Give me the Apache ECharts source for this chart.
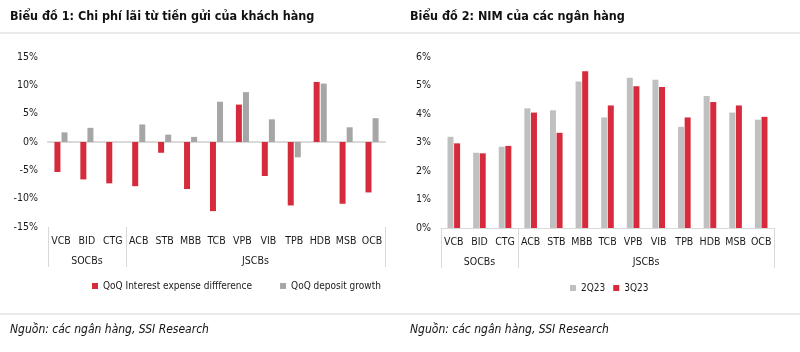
<!DOCTYPE html>
<html><head><meta charset="utf-8">
<script src="https://cdn.jsdelivr.net/npm/echarts@6/dist/echarts.min.js"></script>
<style>html,body{margin:0;padding:0;background:#fff}#c{width:800px;height:352px}</style>
</head><body><div id="c"></div>
<script>
const categories = ['VCB','BID','CTG','ACB','STB','MBB','TCB','VPB','VIB','TPB','HDB','MSB','OCB'];
const groupLabels = ['','SOCBs','','','','','','JSCBs','','','','',''];
const groupBoundaries = [0, 3];
const interestExpenseDiff = [-5.3,-6.6,-7.3,-7.8,-1.9,-8.3,-12.2,6.6,-6.0,-11.2,10.6,-10.9,-8.9];
const depositGrowth = [1.7,2.5,0,3.1,1.3,0.9,7.1,8.8,4.0,-2.7,10.3,2.6,4.2];
const nim2Q23 = [3.2,2.64,2.85,4.2,4.13,5.14,3.88,5.27,5.2,3.55,4.63,4.05,3.8];
const nim3Q23 = [2.97,2.62,2.88,4.05,3.34,5.5,4.3,4.97,4.95,3.88,4.42,4.3,3.9];
const leftTicks = [-15, 15, 5];
const rightTicks = [0, 6, 1];

const FONT = "'Liberation Sans Narrow','DejaVu Sans Condensed','Roboto Condensed',Arial,sans-serif";
const RED = '#d52b3c', GRAY_L = '#a6a6a6', GRAY_R = '#c0c0c0', LINE = '#d9d9d9', TXT = '#1a1a1a';

function labelAxis(grid) {
  return {
    type: 'category', gridIndex: grid, data: categories, position: 'bottom',
    axisLine: { show: grid === 1, onZero: false, lineStyle: { color: LINE, width: 1 } },
    axisTick: { show: false },
    axisLabel: { interval: 0, margin: 9, fontSize: 10.5, color: TXT, fontFamily: FONT }
  };
}
function groupAxis(grid) {
  return {
    type: 'category', gridIndex: grid, data: groupLabels, position: 'bottom',
    axisLine: { show: false, onZero: false },
    axisTick: { show: true, length: 40, interval: (i) => groupBoundaries.includes(i), lineStyle: { color: LINE, width: 1 } },
    axisLabel: {
      interval: 0, margin: 29, fontSize: 10.5, color: TXT, fontFamily: FONT,
      formatter: (v) => v === 'JSCBs' ? '{j|' + v + '}' : v,
      rich: { j: { padding: [0, 0, 0, 26], fontSize: 10.5, color: TXT, fontFamily: FONT } }
    }
  };
}

const option = {
  animation: false,
  title: [
    { text: 'Biểu đồ 1: Chi phí lãi từ tiền gửi của khách hàng', left: 5, top: 5,
      textStyle: { fontSize: 12.5, fontWeight: 'bold', color: '#111', fontFamily: FONT } },
    { text: 'Biểu đồ 2: NIM của các ngân hàng', left: 405, top: 5,
      textStyle: { fontSize: 12.5, fontWeight: 'bold', color: '#111', fontFamily: FONT } },
    { text: 'Nguồn: các ngân hàng, SSI Research', left: 5, top: 319,
      textStyle: { fontSize: 12, fontWeight: 'normal', fontStyle: 'italic', color: '#111', fontFamily: FONT } },
    { text: 'Nguồn: các ngân hàng, SSI Research', left: 405, top: 319,
      textStyle: { fontSize: 12, fontWeight: 'normal', fontStyle: 'italic', color: '#111', fontFamily: FONT } }
  ],
  graphic: [
    { type: 'line', shape: { x1: 0, y1: 33, x2: 800, y2: 33 }, style: { stroke: '#e3e3e3', lineWidth: 1.5 } },
    { type: 'line', shape: { x1: 0, y1: 314, x2: 800, y2: 314 }, style: { stroke: '#e3e3e3', lineWidth: 1.5 } }
  ],
  legend: [
    { left: 87, top: 276, itemWidth: 6, itemHeight: 6, itemGap: 28, icon: 'rect',
      data: ['QoQ Interest expense diffference', 'QoQ deposit growth'],
      textStyle: { fontSize: 10, color: TXT, fontFamily: FONT } },
    { left: 565, top: 278, itemWidth: 6, itemHeight: 6, itemGap: 8, icon: 'rect',
      data: ['2Q23', '3Q23'],
      textStyle: { fontSize: 10, color: TXT, fontFamily: FONT } }
  ],
  grid: [
    { left: 48, top: 57, width: 337, height: 170 },
    { left: 441, top: 57, width: 333, height: 171 }
  ],
  xAxis: [
    labelAxis(0), groupAxis(0),
    { type: 'category', gridIndex: 0, data: categories, position: 'bottom',
      axisLine: { show: true, onZero: true, lineStyle: { color: LINE, width: 2 } },
      axisTick: { show: false }, axisLabel: { show: false } },
    labelAxis(1), groupAxis(1)
  ],
  yAxis: [
    { type: 'value', gridIndex: 0, min: leftTicks[0], max: leftTicks[1], interval: leftTicks[2],
      splitLine: { show: false }, axisLine: { show: false }, axisTick: { show: false },
      axisLabel: { margin: 10, fontSize: 10.5, color: TXT, fontFamily: FONT, formatter: '{value}%' } },
    { type: 'value', gridIndex: 1, min: rightTicks[0], max: rightTicks[1], interval: rightTicks[2],
      splitLine: { show: false }, axisLine: { show: false }, axisTick: { show: false },
      axisLabel: { margin: 10, fontSize: 10.5, color: TXT, fontFamily: FONT, formatter: '{value}%' } }
  ],
  series: [
    { name: 'QoQ Interest expense diffference', type: 'bar', xAxisIndex: 0, yAxisIndex: 0,
      data: interestExpenseDiff, barWidth: 6, barGap: '18%', itemStyle: { color: RED } },
    { name: 'QoQ deposit growth', type: 'bar', xAxisIndex: 0, yAxisIndex: 0,
      data: depositGrowth, barWidth: 6, barGap: '18%', itemStyle: { color: GRAY_L } },
    { name: '2Q23', type: 'bar', xAxisIndex: 3, yAxisIndex: 1,
      data: nim2Q23, barWidth: 6, barGap: '10%', itemStyle: { color: GRAY_R } },
    { name: '3Q23', type: 'bar', xAxisIndex: 3, yAxisIndex: 1,
      data: nim3Q23, barWidth: 6, barGap: '10%', itemStyle: { color: RED } }
  ]
};
echarts.init(document.getElementById('c'), null, { renderer: 'canvas' }).setOption(option);
</script>
</body></html>
